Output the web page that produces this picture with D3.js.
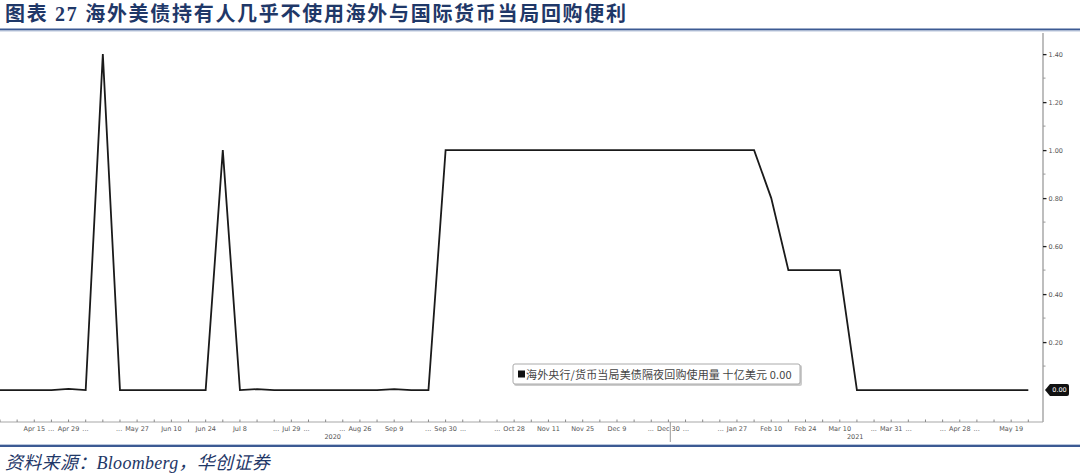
<!DOCTYPE html>
<html>
<head>
<meta charset="utf-8">
<title>图表 27</title>
<style>
	body { margin: 0; background: #fff; }
	svg { display: block; }
</style>
<script src="https://d3js.org/d3.v7.min.js"></script>
</head>
<body>
<svg width="1080" height="474"></svg>
<script>
	// weekly observations (Wednesdays), bn USD
	const dates = [
		'2020-04-01','2020-04-08','2020-04-15','2020-04-22','2020-04-29',
		'2020-05-06','2020-05-13','2020-05-20','2020-05-27',
		'2020-06-03','2020-06-10','2020-06-17','2020-06-24',
		'2020-07-01','2020-07-08','2020-07-15','2020-07-22','2020-07-29',
		'2020-08-05','2020-08-12','2020-08-19','2020-08-26',
		'2020-09-02','2020-09-09','2020-09-16','2020-09-23','2020-09-30',
		'2020-10-07','2020-10-14','2020-10-21','2020-10-28',
		'2020-11-04','2020-11-11','2020-11-18','2020-11-25',
		'2020-12-02','2020-12-09','2020-12-16','2020-12-23','2020-12-30',
		'2021-01-06','2021-01-13','2021-01-20','2021-01-27',
		'2021-02-03','2021-02-10','2021-02-17','2021-02-24',
		'2021-03-03','2021-03-10','2021-03-17','2021-03-24','2021-03-31',
		'2021-04-07','2021-04-14','2021-04-21','2021-04-28',
		'2021-05-05','2021-05-12','2021-05-19','2021-05-26'
	]
	const values = [
		0, 0, 0, 0, 0.005,
		0, 1.40, 0, 0,
		0, 0, 0, 0,
		1.00, 0, 0.004, 0, 0,
		0, 0, 0, 0,
		0, 0.004, 0, 0, 1.00,
		1.00, 1.00, 1.00, 1.00,
		1.00, 1.00, 1.00, 1.00,
		1.00, 1.00, 1.00, 1.00, 1.00,
		1.00, 1.00, 1.00, 1.00,
		1.00, 0.80, 0.50, 0.50,
		0.50, 0.50, 0, 0, 0,
		0, 0, 0, 0,
		0, 0, 0, 0
	]

	const xTickDates = ['2020-04-15','2020-04-29','2020-05-27','2020-06-10','2020-06-24','2020-07-08',
		'2020-07-29','2020-08-26','2020-09-09','2020-09-30','2020-10-28','2020-11-11','2020-11-25',
		'2020-12-09','2020-12-30','2021-01-27','2021-02-10','2021-02-24','2021-03-10','2021-03-31',
		'2021-04-28','2021-05-19']
	const xTickLabels = ['Apr 15 ...','Apr 29 ...','... May 27','Jun 10','Jun 24','Jul 8',
		'... Jul 29 ...','... Aug 26','Sep 9','... Sep 30 ...','... Oct 28','Nov 11','Nov 25',
		'Dec 9','... Dec 30 ...','... Jan 27','Feb 10','Feb 24','Mar 10','... Mar 31 ...',
		'... Apr 28 ...','May 19']
	const years = ['2020', '2021']
	const yTicks = [0, 0.20, 0.40, 0.60, 0.80, 1.00, 1.20, 1.40]

	const title = '图表 27 海外美债持有人几乎不使用海外与国际货币当局回购便利'
	const source = '资料来源：Bloomberg，华创证券'
	const legendText = '海外央行/货币当局美债隔夜回购使用量 十亿美元 0.00'

	const parse = d3.timeParse('%Y-%m-%d')
	let data = dates.map((d, i) => ({date: parse(d), value: values[i]}))

	let svg = d3.select('svg')
	let navy = '#1f3868'

	// title + rules
	svg.append('text')
		.attr('x', 5).attr('y', 21)
		.style('font-family', '"Liberation Serif", "Noto Sans CJK SC", serif')
		.style('font-weight', 'bold')
		.style('font-size', '20px')
		.style('letter-spacing', '1.7px')
		.style('fill', navy)
		.text(title)
	svg.append('rect').attr('x', 0).attr('y', 28.5).attr('width', 1080).attr('height', 2).style('fill', '#3c5a93')
	svg.append('rect').attr('x', 0).attr('y', 30.5).attr('width', 1080).attr('height', 1).style('fill', '#b9c6dc')
	svg.append('rect').attr('x', 0).attr('y', 445).attr('width', 1080).attr('height', 2).style('fill', '#3c5a93')
	svg.append('rect').attr('x', 0).attr('y', 444).attr('width', 1080).attr('height', 1).style('fill', '#b9c6dc')

	svg.append('text')
		.attr('x', 5).attr('y', 469)
		.style('font-family', '"Liberation Serif", "Noto Sans CJK SC", serif')
		.style('font-style', 'italic')
		.style('font-size', '18px')
		.style('letter-spacing', '0.3px')
		.style('fill', navy)
		.text(source)

	// scales
	let plotL = 0, plotR = 1043, plotT = 33, plotB = 422
	let x = d3.scaleTime()
		.domain([parse('2020-04-01'), parse('2021-06-01')])
		.range([plotL, plotR])
	let y = d3.scaleLinear()
		.domain([-0.133, 1.488])
		.range([plotB, plotT])

	// right axis
	svg.append('line')
		.attr('x1', plotR).attr('x2', plotR).attr('y1', plotT).attr('y2', plotB)
		.style('stroke', '#a8a8a8').style('stroke-width', 1.5)
	let minor = d3.range(0.1, 1.5, 0.2)
	svg.append('g').selectAll('line').data(minor).join('line')
		.attr('x1', plotR).attr('x2', plotR + 2.5)
		.attr('y1', d => y(d)).attr('y2', d => y(d))
		.style('stroke', '#999').style('stroke-width', 1)
	let yAxis = svg.append('g')
		.attr('transform', `translate(${plotR},0)`)
		.call(d3.axisRight(y).tickValues(yTicks.filter(d => d > 0)).tickFormat(d3.format('.2f')).tickSize(3.5).tickPadding(2))
	yAxis.select('.domain').remove()
	yAxis.selectAll('line').style('stroke', '#222').style('stroke-width', 1.3)
	yAxis.selectAll('text')
		.style('font-family', '"DejaVu Sans", sans-serif')
		.style('font-size', '6.5px')
		.style('fill', '#555')

	// bottom axis
	svg.append('line')
		.attr('x1', plotL).attr('x2', plotR).attr('y1', plotB).attr('y2', plotB)
		.style('stroke', '#a8a8a8').style('stroke-width', 1.2)
	svg.append('g').selectAll('line')
		.data(d3.timeWednesday.range(x.domain()[0], x.domain()[1]))
		.join('line')
		.attr('x1', d => x(d)).attr('x2', d => x(d))
		.attr('y1', plotB).attr('y2', plotB - 2.5)
		.style('stroke', '#888').style('stroke-width', 1)

	let xLab = svg.append('g')
		.style('font-family', '"DejaVu Sans", sans-serif')
		.style('font-size', '6.5px')
		.style('fill', '#555')
	xTickDates.forEach((d, i) => {
		let lab = xTickLabels[i]
		let pre = lab.startsWith('...')
		let post = lab.endsWith('...')
		let core = lab.replace(/\.\.\./g, '').trim()
		let cx = x(parse(d))
		let t = xLab.append('text')
			.attr('x', cx).attr('y', 431)
			.attr('text-anchor', 'middle')
			.text(core)
		let w = t.node().getComputedTextLength()
		if (pre) xLab.append('text').attr('x', cx - w / 2 - 3).attr('y', 431).attr('text-anchor', 'end').text('...')
		if (post) xLab.append('text').attr('x', cx + w / 2 + 3).attr('y', 431).attr('text-anchor', 'start').text('...')
	})

	// year separator and labels
	let yearBreak = parse('2021-01-01')
	svg.append('line')
		.attr('x1', x(yearBreak) - 3).attr('x2', x(yearBreak) - 3)
		.attr('y1', plotB).attr('y2', 442)
		.style('stroke', '#999').style('stroke-width', 1)
	let yearMid = [(x.range()[0] + x(yearBreak)) / 2 - 4, (x(yearBreak) + x.range()[1]) / 2 - 3]
	svg.append('g').selectAll('text').data(years).join('text')
		.attr('x', (d, i) => yearMid[i]).attr('y', 439)
		.attr('text-anchor', 'middle')
		.style('font-family', '"DejaVu Sans", sans-serif')
		.style('font-size', '6.5px')
		.style('fill', '#555')
		.text(d => d)

	// series line
	let line = d3.line()
		.x(d => x(d.date))
		.y(d => y(d.value))
	svg.append('path')
		.datum(data)
		.attr('d', line)
		.style('fill', 'none')
		.style('stroke', '#1a1a1a')
		.style('stroke-width', 1.8)
		.style('stroke-linejoin', 'miter')

	// last value tag
	let last = data[data.length - 1]
	let ty = y(last.value)
	let tx = plotR + 2
	svg.append('path')
		.attr('d', `M${tx},${ty} L${tx + 5},${ty - 6} L${tx + 22},${ty - 6} Q${tx + 24},${ty - 6} ${tx + 24},${ty - 4} L${tx + 24},${ty + 4} Q${tx + 24},${ty + 6} ${tx + 22},${ty + 6} L${tx + 5},${ty + 6} Z`)
		.style('fill', '#111')
	svg.append('text')
		.attr('x', tx + 14.5).attr('y', ty + 2.3)
		.attr('text-anchor', 'middle')
		.style('font-family', '"DejaVu Sans", sans-serif')
		.style('font-size', '6.5px')
		.style('fill', '#fff')
		.text(d3.format('.2f')(last.value))

	// legend
	let lg = svg.append('g').attr('transform', 'translate(513,364)')
	lg.append('rect')
		.attr('x', 1).attr('y', 1).attr('width', 288).attr('height', 21).attr('rx', 2)
		.style('fill', '#ccc')
	lg.append('rect')
		.attr('width', 287).attr('height', 20).attr('rx', 2)
		.style('fill', '#fff').style('stroke', '#aaa').style('stroke-width', 1)
	lg.append('rect').attr('x', 5).attr('y', 6.5).attr('width', 7).attr('height', 7).style('fill', '#111')
	lg.append('text')
		.attr('x', 13).attr('y', 14.5)
		.style('font-family', '"Noto Sans CJK SC", sans-serif')
		.style('font-size', '11px')
		.style('letter-spacing', '0.15px')
		.style('fill', '#444')
		.text(legendText)
</script>
</body>
</html>
